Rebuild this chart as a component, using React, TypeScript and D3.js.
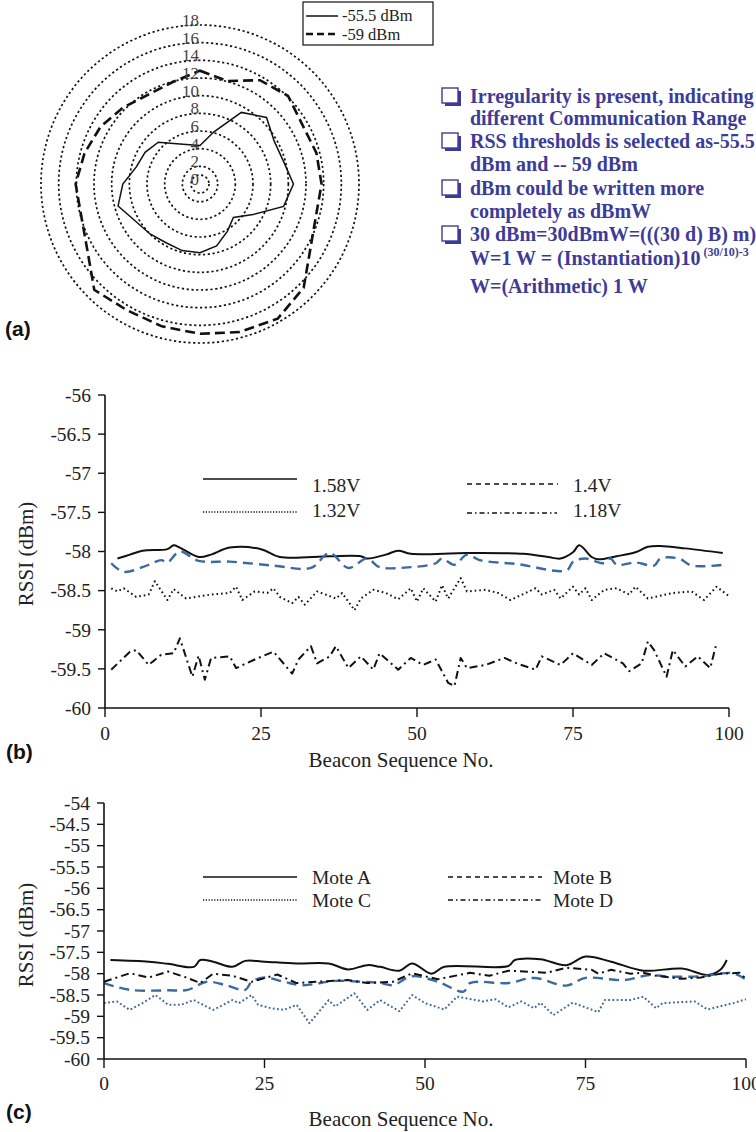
import React from 'react';
import * as d3 from 'd3';

// ---------- (a) radar data ----------
const radarRings = [0, 2, 4, 6, 8, 10, 12, 14, 16, 18];
const radarSolid = [4.36, 6.12, 9.36, 10.65, 9.7, 9.8, 10.58, 9.8, 6.93, 5.35, 6.19, 7.25, 7.79, 7.8, 7.68, 8.0, 8.42, 9.6, 8.74, 7.46, 7.18, 6.68, 5.27, 4.61];
const radarDashed = [12.83, 12.06, 13.57, 14.1, 13.39, 13.64, 13.76, 13.61, 14.45, 16.6, 17.6, 17.35, 16.96, 16.68, 16.51, 16.93, 14.75, 13.92, 14.08, 13.53, 12.99, 12.27, 11.69, 11.95];
const radarLegend = ['-55.5 dBm', '-59 dBm'];

const notes: { text: string; sup?: string; bullet: boolean }[] = [
  { text: 'Irregularity is present, indicating', bullet: true },
  { text: 'different Communication Range', bullet: false },
  { text: 'RSS thresholds is selected as-55.5', bullet: true },
  { text: 'dBm and -- 59 dBm', bullet: false },
  { text: 'dBm could be written more', bullet: true },
  { text: 'completely as dBmW', bullet: false },
  { text: '30 dBm=30dBmW=(((30 d) B) m)', bullet: true },
  { text: 'W=1 W = (Instantiation)10', sup: '(30/10)-3', bullet: false },
  { text: 'W=(Arithmetic) 1 W', bullet: false },
];
const noteBaselines = [103, 125, 148, 171, 195, 218, 241, 265, 293];

// ---------- shared ----------
const xTicks = [0, 25, 50, 75, 100];

// ---------- (b) ----------
const bYTicks = [-60, -59.5, -59, -58.5, -58, -57.5, -57, -56.5, -56];
const bNames = ['1.58V', '1.4V', '1.32V', '1.18V'];
const b158: [number, number][] = [[2,-58.09],[4,-58.04],[6,-57.99],[10,-57.97],[11,-57.92],[12,-57.95],[15,-58.07],[17,-58.04],[20,-57.95],[25,-57.97],[28,-58.07],[36,-58.06],[41,-58.06],[42,-58.09],[45,-58.04],[47,-57.99],[49,-58.03],[58,-58.02],[67,-58.03],[71,-58.07],[73,-58.09],[75,-58.01],[76,-57.92],[78,-58.07],[79,-58.1],[82,-58.06],[85,-58.01],[87,-57.94],[89,-57.93],[93,-57.96],[99,-58.02]];
const b140: [number, number][] = [[1,-58.15],[3,-58.26],[7,-58.17],[9,-58.11],[10,-58.14],[12,-58.0],[15,-58.12],[20,-58.13],[27,-58.18],[33,-58.21],[36,-58.02],[39,-58.21],[42,-58.09],[44,-58.2],[49,-58.2],[53,-58.15],[54,-58.09],[56,-58.17],[58,-58.04],[60,-58.11],[66,-58.16],[74,-58.24],[75,-58.13],[77,-58.09],[80,-58.15],[81,-58.09],[82,-58.17],[85,-58.14],[88,-58.18],[89,-58.09],[92,-58.09],[94,-58.18],[99,-58.17]];
const b132: [number, number][] = [[1,-58.47],[2,-58.51],[3,-58.47],[5,-58.58],[7,-58.55],[8,-58.38],[10,-58.62],[11,-58.48],[13,-58.6],[17,-58.55],[20,-58.53],[21,-58.45],[22,-58.62],[24,-58.51],[26,-58.53],[27,-58.47],[28,-58.58],[30,-58.66],[31,-58.58],[32,-58.68],[34,-58.51],[37,-58.6],[38,-58.53],[40,-58.75],[41,-58.6],[43,-58.49],[45,-58.53],[47,-58.61],[49,-58.47],[50,-58.64],[51,-58.47],[53,-58.64],[54,-58.43],[55,-58.6],[57,-58.34],[58,-58.51],[61,-58.49],[63,-58.53],[65,-58.62],[69,-58.47],[70,-58.55],[72,-58.49],[73,-58.6],[75,-58.45],[76,-58.55],[77,-58.47],[78,-58.62],[80,-58.49],[82,-58.47],[84,-58.55],[85,-58.45],[87,-58.6],[91,-58.53],[94,-58.51],[96,-58.62],[98,-58.45],[100,-58.57]];
const b118: [number, number][] = [[1,-59.51],[4,-59.28],[5,-59.26],[7,-59.45],[9,-59.32],[11,-59.3],[12,-59.11],[14,-59.6],[15,-59.33],[16,-59.64],[17,-59.36],[20,-59.34],[21,-59.49],[24,-59.38],[27,-59.28],[30,-59.56],[31,-59.38],[33,-59.21],[34,-59.43],[36,-59.34],[37,-59.21],[39,-59.49],[41,-59.34],[43,-59.51],[44,-59.3],[47,-59.51],[49,-59.36],[51,-59.45],[53,-59.38],[55,-59.68],[56,-59.72],[57,-59.36],[58,-59.49],[61,-59.45],[64,-59.36],[66,-59.43],[69,-59.51],[70,-59.34],[73,-59.45],[75,-59.3],[78,-59.45],[80,-59.3],[83,-59.43],[84,-59.53],[86,-59.43],[87,-59.15],[88,-59.26],[89,-59.43],[90,-59.6],[91,-59.26],[93,-59.47],[95,-59.34],[97,-59.49],[98,-59.17]];

// ---------- (c) ----------
const cYTicks = [-60, -59.5, -59, -58.5, -58, -57.5, -57, -56.5, -56, -55.5, -55, -54.5, -54];
const cNames = ['Mote A', 'Mote B', 'Mote C', 'Mote D'];
const cMoteA: [number, number][] = [[1,-57.68],[7,-57.72],[10,-57.77],[14,-57.84],[15,-57.68],[17,-57.72],[20,-57.84],[22,-57.7],[25,-57.72],[30,-57.76],[35,-57.76],[38,-57.9],[41,-57.8],[43,-57.84],[46,-57.93],[48,-57.76],[51,-58.0],[53,-57.84],[63,-57.82],[64,-57.68],[68,-57.66],[72,-57.8],[75,-57.6],[79,-57.72],[84,-57.93],[90,-57.88],[94,-58.03],[96,-57.91],[97,-57.68]];
const cMoteB: [number, number][] = [[0,-58.22],[4,-58.38],[10,-58.39],[13,-58.38],[16,-58.19],[19,-58.27],[22,-58.38],[23,-58.19],[25,-58.09],[28,-58.19],[31,-58.27],[36,-58.17],[40,-58.19],[43,-58.22],[45,-58.27],[48,-58.06],[52,-58.19],[56,-58.42],[57,-58.22],[63,-58.22],[67,-58.1],[72,-58.28],[75,-58.1],[81,-58.15],[85,-58.03],[88,-58.07],[93,-58.06],[98,-57.99],[100,-58.14]];
const cMoteC: [number, number][] = [[0,-58.69],[2,-58.65],[4,-58.85],[6,-58.69],[8,-58.5],[10,-58.73],[12,-58.73],[14,-58.62],[17,-58.85],[20,-58.62],[21,-58.69],[23,-58.5],[24,-58.73],[26,-58.81],[28,-58.85],[30,-58.73],[32,-59.16],[35,-58.62],[36,-58.77],[39,-58.46],[41,-58.85],[43,-58.62],[46,-58.88],[48,-58.5],[50,-58.69],[53,-58.84],[55,-58.54],[59,-58.65],[61,-58.6],[63,-58.79],[65,-58.65],[67,-58.81],[68,-58.68],[70,-58.97],[73,-58.68],[77,-58.9],[78,-58.62],[82,-58.62],[84,-58.54],[86,-58.81],[87,-58.69],[92,-58.65],[94,-58.84],[98,-58.69],[100,-58.6]];
const cMoteD: [number, number][] = [[0,-58.19],[4,-57.99],[7,-58.09],[10,-57.95],[13,-58.1],[15,-58.22],[17,-58.0],[20,-58.05],[23,-58.19],[27,-58.02],[30,-58.22],[33,-58.19],[38,-58.15],[41,-58.22],[45,-58.19],[48,-57.99],[52,-58.13],[57,-57.98],[60,-58.05],[63,-57.93],[69,-57.98],[72,-57.86],[76,-57.91],[77,-58.0],[79,-57.91],[82,-58.0],[84,-57.98],[86,-58.05],[90,-58.12],[93,-58.09],[96,-58.0],[99,-57.98],[100,-58.12]];

const serif = "'Liberation Serif','Times New Roman',serif";
const sans = "'Liberation Sans',Arial,sans-serif";
const BLUE = '#3d6a9e';
const NOTE = '#3c3c98';

type Series = { data: [number, number][]; stroke: string; width: number; dash?: string; curve?: boolean };
type Leg = { name: string; x1: number; x2: number; y: number; tx: number; ty: number; dash?: string };

function Panel(props: {
  xr: [number, number]; yr: [number, number]; yDomain: [number, number]; yTicks: number[];
  series: Series[]; legend: Leg[]; xTitleY: number; yTitleCY: number; xLabelDy: number;
}) {
  const x = d3.scaleLinear().domain([0, 100]).range(props.xr);
  const y = d3.scaleLinear().domain(props.yDomain).range(props.yr);
  const ax = x(0);
  const ay = y(props.yDomain[0]);
  return (
    <g>
      {props.series.map((s, i) => {
        const line = d3.line<[number, number]>().x(d => x(d[0])).y(d => y(d[1]))
          .curve(s.curve ? d3.curveCatmullRom.alpha(0.5) : d3.curveLinear);
        return <path key={i} d={line(s.data) || ''} fill="none" stroke={s.stroke} strokeWidth={s.width} strokeDasharray={s.dash} strokeLinejoin="round" />;
      })}
      <line x1={ax} x2={ax} y1={y(props.yDomain[1])} y2={ay} stroke="#111" strokeWidth={1.6} />
      <line x1={ax} x2={x(100)} y1={ay} y2={ay} stroke="#111" strokeWidth={1.6} />
      {props.yTicks.map(t => (
        <g key={t}>
          <line x1={ax - 7} x2={ax} y1={y(t)} y2={y(t)} stroke="#111" strokeWidth={1.4} />
          <text x={ax - 14} y={y(t)} dy="0.35em" textAnchor="end" fontFamily={serif} fontSize={19.5} fill="#222">{String(t)}</text>
        </g>
      ))}
      {xTicks.map(t => (
        <g key={t}>
          <line x1={x(t)} x2={x(t)} y1={ay} y2={ay + 9} stroke="#111" strokeWidth={1.4} />
          <text x={x(t)} y={ay + props.xLabelDy} textAnchor="middle" fontFamily={serif} fontSize={19.5} fill="#222">{t}</text>
        </g>
      ))}
      <text x={401} y={props.xTitleY} textAnchor="middle" fontFamily={serif} fontSize={21} fill="#222">Beacon Sequence No.</text>
      <text transform={`translate(33,${props.yTitleCY}) rotate(-90)`} textAnchor="middle" fontFamily={serif} fontSize={21} fill="#222">RSSI (dBm)</text>
      {props.legend.map((l, i) => (
        <g key={i}>
          <line x1={l.x1} x2={l.x2} y1={l.y} y2={l.y} stroke="#111" strokeWidth={1.5} strokeDasharray={l.dash} />
          <text x={l.tx} y={l.ty} fontFamily={serif} fontSize={19.5} fill="#222">{l.name}</text>
        </g>
      ))}
    </g>
  );
}

export default function App() {
  const cx = 200, cy = 184;
  const rS = d3.scaleLinear().domain([0, 18]).range([0, 159]);
  const n = radarSolid.length;
  const radial = d3.lineRadial<number>()
    .angle((_, i) => (i * 2 * Math.PI) / n)
    .radius(d => rS(d))
    .curve(d3.curveLinearClosed);

  return (
    <svg width={756} height={1132} style={{ position: 'absolute', left: 0, top: 0, background: '#fff' }}>
      <rect width={756} height={1132} fill="#fff" />
      {/* (a) radar */}
      <g transform={`translate(${cx},${cy})`}>
        {radarRings.map(t => (
          <circle key={t} r={t === 0 ? 9 : rS(t)} fill="none" stroke="#111" strokeWidth={1.7} strokeDasharray="2.2 2.6" />
        ))}
        <path d={radial(radarDashed) || ''} fill="none" stroke="#111" strokeWidth={2.6} strokeDasharray="10 5" />
        <path d={radial(radarSolid) || ''} fill="none" stroke="#111" strokeWidth={1.5} />
        {radarRings.map(t => (
          <text key={t} x={-1} y={-rS(t) + 1} textAnchor="end" fontFamily={serif} fontSize={17} fill="#444">{t}</text>
        ))}
      </g>
      <rect x={303} y={2} width={130} height={43} fill="#fff" stroke="#111" strokeWidth={1.2} />
      <line x1={306} x2={338} y1={16} y2={16} stroke="#111" strokeWidth={1.5} />
      <line x1={306} x2={338} y1={34} y2={34} stroke="#111" strokeWidth={2.6} strokeDasharray="7 4" />
      <text x={342} y={21} fontFamily={serif} fontSize={16.5} fill="#222">{radarLegend[0]}</text>
      <text x={342} y={40} fontFamily={serif} fontSize={16.5} fill="#222">{radarLegend[1]}</text>

      {notes.map((nt, i) => (
        <g key={i}>
          {nt.bullet && (
            <g>
              <rect x={445} y={noteBaselines[i] - 12} width={16} height={15} fill={NOTE} />
              <rect x={442} y={noteBaselines[i] - 15} width={16} height={15} fill="#fff" stroke={NOTE} strokeWidth={1.4} />
            </g>
          )}
          <text x={470} y={noteBaselines[i]} fontFamily={serif} fontWeight="bold" fontSize={20} fill={NOTE}>
            {nt.text}
            {nt.sup && <tspan dx={3} dy={-9} fontSize={12}>{nt.sup}</tspan>}
          </text>
        </g>
      ))}
      <text x={5} y={336} fontFamily={sans} fontWeight="bold" fontSize={21} fill="#111">(a)</text>

      {/* (b) */}
      <Panel
        xr={[105, 729]} yr={[708, 395]} yDomain={[-60, -56]} yTicks={bYTicks}
        series={[
          { data: b158, stroke: '#111', width: 2, curve: true },
          { data: b140, stroke: BLUE, width: 2.4, dash: '10 6', curve: true },
          { data: b132, stroke: '#111', width: 2, dash: '1.6 3' },
          { data: b118, stroke: '#111', width: 2, dash: '8 4 2 4' },
        ]}
        legend={[
          { name: bNames[0], x1: 203, x2: 297, y: 479, tx: 312, ty: 492 },
          { name: bNames[1], x1: 467, x2: 558, y: 484, tx: 573, ty: 492, dash: '5 4' },
          { name: bNames[2], x1: 203, x2: 298, y: 512, tx: 312, ty: 517, dash: '1.2 1.6' },
          { name: bNames[3], x1: 467, x2: 557, y: 513, tx: 573, ty: 517, dash: '5 3 1.5 3' },
        ]}
        xTitleY={767} yTitleCY={554} xLabelDy={32}
      />
      <text x={6} y={759} fontFamily={sans} fontWeight="bold" fontSize={21} fill="#111">(b)</text>

      {/* (c) */}
      <Panel
        xr={[104, 746]} yr={[1059, 803]} yDomain={[-60, -54]} yTicks={cYTicks}
        series={[
          { data: cMoteA, stroke: '#111', width: 2, curve: true },
          { data: cMoteB, stroke: BLUE, width: 2.4, dash: '10 6', curve: true },
          { data: cMoteC, stroke: BLUE, width: 2, dash: '1.8 2.4' },
          { data: cMoteD, stroke: '#111', width: 2, dash: '8 4 2 4' },
        ]}
        legend={[
          { name: cNames[0], x1: 203, x2: 297, y: 877, tx: 312, ty: 884 },
          { name: cNames[1], x1: 448, x2: 542, y: 877, tx: 553, ty: 884, dash: '5 4' },
          { name: cNames[2], x1: 203, x2: 297, y: 900, tx: 312, ty: 907, dash: '1.2 1.6' },
          { name: cNames[3], x1: 448, x2: 542, y: 900, tx: 553, ty: 907, dash: '5 3 1.5 3' },
        ]}
        xTitleY={1126} yTitleCY={935} xLabelDy={31}
      />
      <text x={6} y={1119} fontFamily={sans} fontWeight="bold" fontSize={21} fill="#111">(c)</text>
    </svg>
  );
}
